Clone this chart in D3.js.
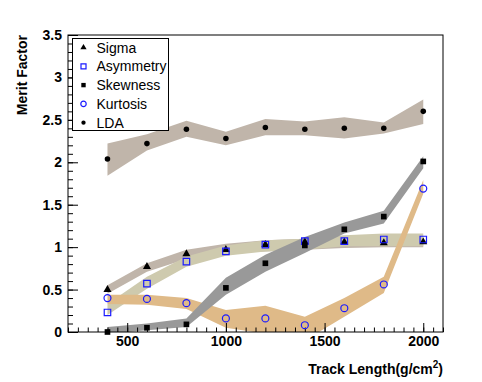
<!DOCTYPE html>
<html>
<head>
<meta charset="utf-8">
<script src="https://cdn.jsdelivr.net/npm/d3@7"></script>
<style>
  body { margin: 0; background: #fff; }
  svg { display: block; font-family: "Liberation Sans", Arial, sans-serif; }
</style>
</head>
<body>
<div id="chart"></div>
<script>
// data
const trackLength = [400, 600, 800, 1000, 1200, 1400, 1600, 1800, 2000];
const sigma    = [0.50, 0.77, 0.92, 0.97, 1.03, 1.06, 1.06, 1.05, 1.06];
const asym     = [0.23, 0.57, 0.83, 0.95, 1.03, 1.07, 1.07, 1.09, 1.09];
const skew     = [0.00, 0.05, 0.09, 0.52, 0.81, 1.02, 1.21, 1.36, 2.01];
const kurt     = [0.40, 0.39, 0.34, 0.16, 0.16, 0.08, 0.28, 0.56, 1.69];
const lda      = [2.04, 2.22, 2.39, 2.28, 2.41, 2.39, 2.40, 2.40, 2.60];

// bands (lower / upper edge)
const ldaLo   = [1.84, 2.14, 2.30, 2.20, 2.32, 2.32, 2.28, 2.34, 2.45];
const ldaHi   = [2.22, 2.33, 2.49, 2.36, 2.51, 2.48, 2.53, 2.47, 2.74];
const sigmaLo = [0.45, 0.71, 0.86, 0.93, 0.95, 0.97, 0.99, 1.00, 1.00];
const sigmaHi = [0.55, 0.81, 0.97, 1.04, 1.08, 1.10, 1.12, 1.13, 1.13];
const asymLo  = [0.20, 0.51, 0.77, 0.90, 0.95, 0.97, 1.01, 1.01, 1.01];
const asymHi  = [0.33, 0.65, 0.89, 1.02, 1.08, 1.10, 1.14, 1.16, 1.16];
const skewLo  = [-0.02, 0.02, 0.06, 0.44, 0.71, 0.93, 1.16, 1.28, 1.93];
const skewHi  = [0.06, 0.10, 0.16, 0.64, 0.91, 1.12, 1.29, 1.43, 2.07];
const kurtLo  = [0.33, 0.32, 0.27, 0.05, -0.02, -0.10, 0.18, 0.46, 1.63];
const kurtHi  = [0.44, 0.44, 0.40, 0.26, 0.31, 0.18, 0.40, 0.65, 1.79];

const xMajor = [500, 1000, 1500, 2000];
const yMajor = [0, 0.5, 1, 1.5, 2, 2.5, 3, 3.5];

const width = 482, height = 382;
const frame = { left: 68, right: 443, top: 35, bottom: 332 };

const svg = d3.select("#chart").append("svg")
    .attr("width", width)
    .attr("height", height);

const x = d3.scaleLinear().domain([200, 2100]).range([frame.left, frame.right]);
const y = d3.scaleLinear().domain([0, 3.5]).range([frame.bottom, frame.top]);

svg.append("clipPath").attr("id", "clip")
    .append("rect")
    .attr("x", frame.left).attr("y", frame.top)
    .attr("width", frame.right - frame.left).attr("height", frame.bottom - frame.top);

const plot = svg.append("g").attr("clip-path", "url(#clip)");

const bands = [
    { lo: ldaLo, hi: ldaHi, color: "#c0b5aa" },
    { lo: sigmaLo, hi: sigmaHi, color: "#c0b5aa" },
    { lo: asymLo, hi: asymHi, color: "#cecaae" },
    { lo: kurtLo, hi: kurtHi, color: "#dfba88" },
    { lo: skewLo, hi: skewHi, color: "#999999" }
];

bands.forEach(b => {
    const area = d3.area()
        .x(i => x(trackLength[i]))
        .y0(i => y(b.lo[i]))
        .y1(i => y(b.hi[i]));
    plot.append("path")
        .attr("d", area(d3.range(trackLength.length)))
        .attr("fill", b.color)
        .attr("stroke", "none");
});

// axes (ticks pointing inward, ROOT style)
const yMinor = d3.range(0, 3.501, 0.1);
const xMinor = d3.range(200, 2101, 50);
const boldText = g => g.selectAll("text")
    .attr("font-family", "Liberation Sans, Arial, sans-serif")
    .attr("font-weight", "bold").attr("font-size", 14).attr("fill", "#000");

svg.append("g")
    .attr("transform", `translate(${frame.left},0)`)
    .call(d3.axisLeft(y).tickValues(yMinor).tickSize(-5).tickFormat(""))
    .call(g => g.select(".domain").remove());
svg.append("g")
    .attr("transform", `translate(${frame.left},0)`)
    .call(d3.axisLeft(y).tickValues(yMajor).tickSize(-10).tickPadding(6)
        .tickFormat(d => String(d)))
    .call(g => g.select(".domain").remove())
    .call(boldText);

svg.append("g")
    .attr("transform", `translate(0,${frame.bottom})`)
    .call(d3.axisBottom(x).tickValues(xMinor).tickSize(-4.5).tickFormat(""))
    .call(g => g.select(".domain").remove());
svg.append("g")
    .attr("transform", `translate(0,${frame.bottom})`)
    .call(d3.axisBottom(x).tickValues(xMajor).tickSize(-9).tickPadding(4)
        .tickFormat(d => String(d)))
    .call(g => g.select(".domain").remove())
    .call(boldText);

svg.selectAll(".tick line").attr("stroke", "#000");

svg.append("rect")
    .attr("x", frame.left).attr("y", frame.top)
    .attr("width", frame.right - frame.left).attr("height", frame.bottom - frame.top)
    .attr("fill", "none").attr("stroke", "#000").attr("stroke-width", 1);

// axis titles
svg.append("text")
    .attr("transform", `translate(27,${frame.top}) rotate(-90)`)
    .attr("text-anchor", "end")
    .attr("font-weight", "bold").attr("font-size", 14)
    .text("Merit Factor");

const xt = svg.append("text")
    .attr("x", frame.right).attr("y", 374)
    .attr("text-anchor", "end")
    .attr("font-weight", "bold").attr("font-size", 14);
xt.append("tspan").text("Track Length(g/cm");
xt.append("tspan").attr("dy", -6).attr("font-size", 10).text("2");
xt.append("tspan").attr("dy", 6).text(")");

// markers
const sym = {
    triangle: d3.symbol().type(d3.symbolTriangle),
    square: d3.symbol().type(d3.symbolSquare),
    circle: d3.symbol().type(d3.symbolCircle)
};

const series = [
    { name: "Sigma", values: sigma, shape: "triangle", size: 28, fill: "#000", stroke: "none" },
    { name: "Asymmetry", values: asym, shape: "square", size: 42, fill: "none", stroke: "#1a1aff" },
    { name: "Skewness", values: skew, shape: "square", size: 32, fill: "#000", stroke: "none" },
    { name: "Kurtosis", values: kurt, shape: "circle", size: 38, fill: "none", stroke: "#1a1aff" },
    { name: "LDA", values: lda, shape: "circle", size: 24, fill: "#000", stroke: "none" }
];

const points = svg.append("g");
series.forEach(s => {
    points.selectAll(null)
        .data(s.values)
        .enter().append("path")
        .attr("transform", (d, i) => `translate(${x(trackLength[i])},${y(d)})`)
        .attr("d", sym[s.shape].size(s.size)())
        .attr("fill", s.fill)
        .attr("stroke", s.stroke)
        .attr("stroke-width", 1.2);
});

// legend
const legend = svg.append("g");
legend.append("rect")
    .attr("x", 72.5).attr("y", 38.5).attr("width", 96).attr("height", 92)
    .attr("fill", "#fff").attr("stroke", "#000").attr("stroke-width", 1);

series.forEach((s, i) => {
    const cy = 47.5 + i * 18.8;
    legend.append("path")
        .attr("transform", `translate(83.5,${cy})`)
        .attr("d", sym[s.shape].size(s.size * 0.6)())
        .attr("fill", s.fill)
        .attr("stroke", s.stroke)
        .attr("stroke-width", 1.2);
    legend.append("text")
        .attr("x", 96.5).attr("y", cy + 5)
        .attr("font-size", 14)
        .text(s.name);
});
</script>
</body>
</html>
